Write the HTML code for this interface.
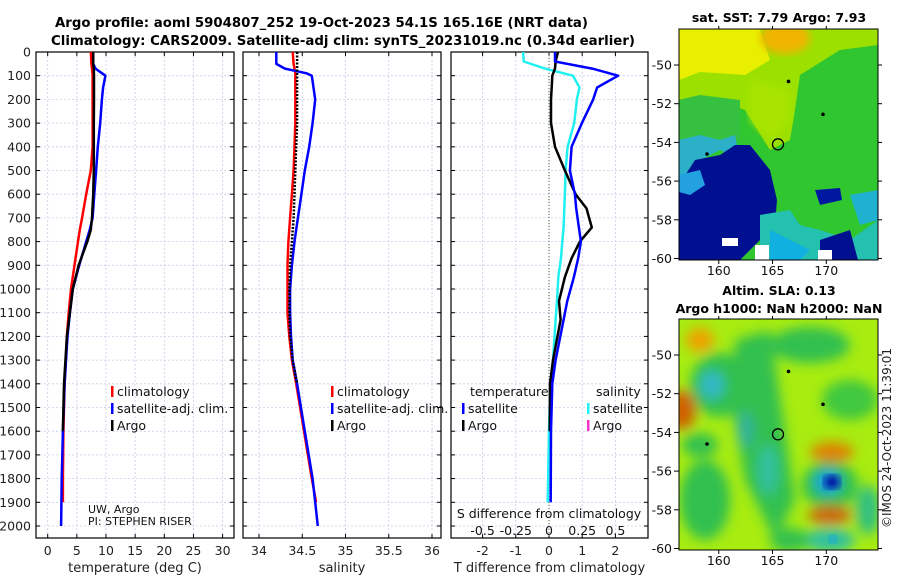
<!DOCTYPE html>
<html><head><meta charset="utf-8"><style>
body{margin:0;background:#fff}
svg{display:block;font-family:"DejaVu Sans","Liberation Sans",sans-serif}
</style></head><body>
<svg id="s" width="900" height="580" viewBox="0 0 900 580" xmlns="http://www.w3.org/2000/svg">
<defs>
<filter id="blur4"><feGaussianBlur stdDeviation="4"/></filter>
<filter id="blur7"><feGaussianBlur stdDeviation="6"/></filter>
<clipPath id="cTop"><rect x="679" y="29" width="199" height="231"/></clipPath>
<clipPath id="cBot"><rect x="679" y="319" width="199" height="231"/></clipPath>
</defs>
<text x="55" y="27" font-size="13" font-weight="bold" textLength="533" lengthAdjust="spacingAndGlyphs">Argo profile: aoml 5904807_252 19-Oct-2023 54.1S 165.16E (NRT data)</text>
<text x="51" y="45" font-size="13" font-weight="bold" textLength="584" lengthAdjust="spacingAndGlyphs">Climatology: CARS2009. Satellite-adj clim: synTS_20231019.nc (0.34d earlier)</text>

<!-- SST map -->
<text x="779" y="22" font-size="12.5" font-weight="bold" text-anchor="middle">sat. SST: 7.79 Argo: 7.93</text>
<g clip-path="url(#cTop)">
<rect x="679" y="29" width="199" height="231" fill="#2fc62f"/>
<polygon points="679,29 878,29 878,45 840,50 800,75 795,110 790,140 770,150 745,110 700,95 679,100" fill="#9ce000"/>
<polygon points="679,29 760,29 770,60 745,75 700,72 679,80" fill="#e8f000"/>
<ellipse cx="785" cy="38" rx="25" ry="16" fill="#f0b400" filter="url(#blur4)"/>
<polygon points="750,80 790,90 790,120 770,140 750,120" fill="#a8e400" filter="url(#blur4)"/>
<polygon points="679,100 700,95 740,100 740,140 715,140 700,150 679,145" fill="#35c040"/>
<polygon points="679,140 700,135 720,140 735,135 740,160 720,150 700,160 690,190 679,190" fill="#2bb0c8"/>
<polygon points="679,185 695,160 720,155 735,145 750,145 770,170 777,200 775,225 760,240 740,260 679,260" fill="#001090"/>
<polygon points="679,175 700,170 705,185 690,195 679,192" fill="#22a0e0"/>
<polygon points="760,215 790,210 800,225 820,230 850,240 878,220 878,260 760,260" fill="#24c0b0"/>
<polygon points="770,230 810,250 800,260 770,260" fill="#10b0e0"/>
<polygon points="815,190 840,188 842,200 820,205" fill="#0018a0"/>
<polygon points="850,195 878,190 878,220 860,225" fill="#20b0d0"/>
<polygon points="820,240 850,230 858,260 820,260" fill="#001090"/>
<rect x="722" y="238" width="16" height="8" fill="#fff"/><rect x="755" y="245" width="14" height="15" fill="#fff"/><rect x="818" y="250" width="14" height="10" fill="#fff"/>
</g>
<rect x="679" y="29" width="199" height="231" fill="none" stroke="#000" stroke-width="1"/>

<!-- SLA map -->
<text x="779" y="295" font-size="12.5" font-weight="bold" text-anchor="middle">Altim. SLA: 0.13</text>
<text x="779" y="313" font-size="12.5" font-weight="bold" text-anchor="middle">Argo h1000: NaN h2000: NaN</text>
<g clip-path="url(#cBot)">
<rect x="679" y="319" width="199" height="231" fill="#a8ec10"/>
<g filter="url(#blur7)">
<ellipse cx="720" cy="385" rx="30" ry="32" fill="#30c050"/>
<ellipse cx="712" cy="385" rx="12" ry="14" fill="#30b8c8"/>
<ellipse cx="700" cy="340" rx="14" ry="12" fill="#f0a000"/>
<ellipse cx="682" cy="410" rx="14" ry="20" fill="#d06000"/>
<polygon points="735,340 770,330 795,500 775,540 745,480 735,420" fill="#30c050"/>
<ellipse cx="768" cy="470" rx="10" ry="25" fill="#30c0a0"/>
<ellipse cx="745" cy="430" rx="8" ry="18" fill="#30b0a0"/>
<ellipse cx="705" cy="500" rx="25" ry="40" fill="#30c050"/>
<ellipse cx="830" cy="485" rx="28" ry="24" fill="#30c050"/>
<ellipse cx="828" cy="482" rx="13" ry="12" fill="#10a0e0"/>
<ellipse cx="832" cy="452" rx="22" ry="10" fill="#e08000"/>
<ellipse cx="830" cy="515" rx="22" ry="9" fill="#d06000"/>
<ellipse cx="830" cy="540" rx="25" ry="12" fill="#30c0a0"/>
<ellipse cx="868" cy="510" rx="12" ry="25" fill="#30c080"/>
<ellipse cx="810" cy="345" rx="40" ry="18" fill="#30c050"/>
<ellipse cx="850" cy="400" rx="28" ry="20" fill="#40c840"/>
<ellipse cx="790" cy="540" rx="20" ry="12" fill="#30c050"/>
<ellipse cx="700" cy="445" rx="18" ry="12" fill="#30c050"/>
</g>
<ellipse cx="832" cy="482" rx="8" ry="7" fill="#0010a0" filter="url(#blur4)"/>
<ellipse cx="833" cy="539" rx="4" ry="4" fill="#10a0f0" filter="url(#blur4)"/>
</g>
<rect x="679" y="319" width="199" height="231" fill="none" stroke="#000" stroke-width="1"/>
<text transform="translate(891,438) rotate(-90)" font-size="12" text-anchor="middle" fill="#222">©IMOS 24-Oct-2023 11:39:01</text>
<g id="g"></g>
</svg>
<script>
// ---- data ----
const tDepth = [0,50,70,100,150,200,300,400,500,600,700,750,800,900,1000,1100,1200,1400,1600,1800,1900,2000];
const tClim  = [7.4,7.5,7.6,7.7,7.7,7.7,7.7,7.7,7.4,6.6,5.9,5.5,5.2,4.6,4.0,3.6,3.3,2.9,2.7,2.6,2.6,null];
const tSat   = [7.8,7.8,8.2,9.9,9.5,9.3,9.0,8.6,8.3,8.0,7.7,7.2,6.6,5.4,4.3,3.8,3.4,2.9,2.6,2.4,2.35,2.3];
const tArgo  = [7.8,7.8,7.9,7.95,7.95,7.95,7.9,7.9,7.9,7.8,7.6,7.4,6.8,5.3,4.3,3.8,3.3,2.8,2.6,null,null,null];
const sDepth = [0,50,70,90,100,200,300,400,500,600,700,800,900,1000,1100,1200,1300,1400,1600,1800,1900,2000];
const sClim  = [34.39,34.40,34.41,34.42,34.42,34.42,34.42,34.41,34.40,34.38,34.36,34.34,34.33,34.33,34.33,34.35,34.38,34.43,34.52,34.61,34.66,null];
const sSat   = [34.20,34.20,34.30,34.55,34.61,34.65,34.62,34.58,34.53,34.49,34.45,34.41,34.38,34.36,34.36,34.37,34.39,34.44,34.53,34.62,34.65,34.68];
const sArgo  = [34.44,34.44,34.44,34.44,34.44,34.44,34.44,34.43,34.42,34.41,34.40,34.38,34.36,34.35,34.35,34.36,34.39,34.44,null,null,null,null];
const dDepth = [0,40,70,100,150,200,300,400,500,600,660,740,800,870,950,1050,1130,1300,1400,1600,1900];
const dTsat  = [0.18,0.18,1.3,2.08,1.45,1.33,0.99,0.68,0.63,0.78,0.82,0.9,0.96,0.88,0.75,0.55,0.44,0.2,0.1,0.06,0.05];
const dTargo = [0.27,0.2,0.18,0.1,0.08,0.06,0.06,0.18,0.48,0.8,1.13,1.29,0.93,0.68,0.48,0.3,0.35,0.12,0.03,0.02,null];
const dSsat  = [-0.195,-0.19,-0.03,0.18,0.23,0.21,0.19,0.14,0.125,0.12,0.115,0.11,0.10,0.09,0.07,0.06,0.05,0.03,0.01,0.0,-0.01];
const depthTicks = [0,100,200,300,400,500,600,700,800,900,1000,1100,1200,1300,1400,1500,1600,1700,1800,1900,2000];
const tTicks = [0,5,10,15,20,25,30];
const sTicks = [34,34.5,35,35.5,36];
const sTickLabels = ['34','34.5','35','35.5','36'];
const dTicks = [-2,-1,0,1,2];
const dsTickLabels = ['-0.5','-0.25','0','0.25','0.5'];
const dsTicks = [-0.5,-0.25,0,0.25,0.5];

const NS='http://www.w3.org/2000/svg';
const G=document.getElementById('g');
function el(tag,attrs,parent){const e=document.createElementNS(NS,tag);for(const k in attrs)e.setAttribute(k,attrs[k]);(parent||G).appendChild(e);return e;}
const Y0=52, Y1=538;
const yD = d => 52 + d*0.237;
const xT = v => 47.7 + v*5.83;
const xS = v => 259 + (v-34)*86.5;
const xD = v => 549 + v*33.2;
const xDS = v => 549 + v*132.8;

const panels=[{x0:36,x1:234,ticks:tTicks,lab:tTicks.map(String),fx:xT,name:'temperature-panel',title:'temperature (deg C)'},
{x0:243,x1:441,ticks:sTicks,lab:sTickLabels,fx:xS,name:'salinity-panel',title:'salinity'},
{x0:451,x1:648,ticks:dTicks,lab:dTicks.map(String),fx:xD,name:'difference-panel',title:'T difference from climatology'}];
panels.forEach((p,i)=>{
  const g=el('g',{});
  
  
  depthTicks.forEach(d=>{
    const l=el('line',{x1:p.x0,x2:p.x1,y1:yD(d),y2:yD(d),stroke:'#c8cce8','stroke-width':0.8,'stroke-dasharray':'2,2'},g);
    
    
    el('line',{x1:p.x0,x2:p.x0+4,y1:yD(d),y2:yD(d),stroke:'#000'},g);
    el('line',{x1:p.x1-4,x2:p.x1,y1:yD(d),y2:yD(d),stroke:'#000'},g);
  });
  p.ticks.forEach((t,k)=>{
    const x=p.fx(t);
    const l=el('line',{x1:x,x2:x,y1:Y0,y2:Y1,stroke:'#c8cce8','stroke-width':0.8,'stroke-dasharray':'2,2'},g);
    
    
    el('line',{x1:x,x2:x,y1:Y1-4,y2:Y1,stroke:'#000'},g);
    el('line',{x1:x,x2:x,y1:Y0,y2:Y0+4,stroke:'#000'},g);
    const tx=el('text',{x:x,y:555,'font-size':12.5,'text-anchor':'middle',fill:'#222'},g);
    
    
    tx.textContent=p.lab[k];
  });
  el('rect',{x:p.x0,y:Y0,width:p.x1-p.x0,height:Y1-Y0,fill:'none',stroke:'#000','stroke-width':1.2},g);
  const tt=el('text',{x:(p.x0+p.x1)/2,y:572,'font-size':13,'text-anchor':'middle',fill:'#222'},g);
  
  
  tt.textContent=p.title;
});
depthTicks.forEach(d=>{
  const t=el('text',{x:31,y:yD(d)+4.5,'font-size':12.5,'text-anchor':'end',fill:'#222'});
  
  
  t.textContent=String(d);
});
el('line',{x1:xD(0),x2:xD(0),y1:Y0,y2:Y1,stroke:'#446633','stroke-width':1,'stroke-dasharray':'1,2'});

function line(depths,vals,fx,color,w,name,dash){
  let d='',pen=false;
  depths.forEach((dp,i)=>{const v=vals[i];if(v===null||v===undefined){pen=false;return;}d+=(pen?'L':'M')+fx(v).toFixed(1)+','+yD(dp).toFixed(1);pen=true;});
  const p=el('path',{d:d,fill:'none',stroke:color,'stroke-width':w,'stroke-linejoin':'round'});
  if(dash)p.setAttribute('stroke-dasharray',dash);
  
  
}
line(tDepth,tClim,xT,'#ff0000',2.5,'temperature-climatology-line');
line(tDepth,tSat,xT,'#0000ff',2.5,'temperature-satellite-line');
line(tDepth,tArgo,xT,'#000',2.5,'temperature-argo-line');
line(sDepth,sClim,xS,'#ff0000',2.5,'salinity-climatology-line');
line(sDepth,sSat,xS,'#0000ff',2.5,'salinity-satellite-line');
line(sDepth,sArgo,xS,'#000',2.5,'salinity-argo-line','2,1.5');
line(dDepth,dSsat,xDS,'#20f0f0',2.5,'salinity-diff-satellite-line');
line(dDepth,dTargo,xD,'#000',2.5,'temperature-diff-argo-line');
line(dDepth,dTsat,xD,'#0000ff',2.5,'temperature-diff-satellite-line');

function legend(x,y,color,label,name){
  const r=el('rect',{x:x,y:y-10,width:2.5,height:11,fill:color});
  
  
  const t=el('text',{x:x+6,y:y,'font-size':12.5,fill:'#111'});
  
  
  t.textContent=label;
}
[[111,'#ff0000','climatology'],[111,'#0000ff','satellite-adj. clim.'],[111,'#000','Argo']].forEach((a,i)=>legend(a[0],396+i*17,a[1],a[2],'temp-legend-entry'));
[[331,'#ff0000','climatology'],[331,'#0000ff','satellite-adj. clim.'],[331,'#000','Argo']].forEach((a,i)=>legend(a[0],396+i*17,a[1],a[2],'sal-legend-entry'));
legend(462,413,'#0000ff','satellite','diff-legend-t-satellite');
legend(462,430,'#000','Argo','diff-legend-t-argo');
legend(587,413,'#20f0f0','satellite','diff-legend-s-satellite');
legend(587,430,'#ff33cc','Argo','diff-legend-s-argo');
function txt(x,y,s,size,name,anchor){const t=el('text',{x:x,y:y,'font-size':size,fill:'#111','text-anchor':anchor||'start'});t.textContent=s;}
txt(470,396,'temperature',12.5,'diff-legend-temperature-header');
txt(596,396,'salinity',12.5,'diff-legend-salinity-header');
txt(88,513,'UW, Argo',11,'institution-label');
txt(88,525,'PI: STEPHEN RISER',11,'pi-label');
txt(549,518,'S difference from climatology',12.5,'s-diff-axis-title','middle');
dsTicks.forEach((v,i)=>{txt(xDS(v),535,dsTickLabels[i],12.5,'s-diff-tick-label','middle');});

const lonTicks=[160,165,170], latTicks=[-50,-52,-54,-56,-58,-60];
const xLon = v => 679 + (v-156.3)*10.75;
const yLatTop = v => 65 + (-50-v)*19.35;
const yLatBot = v => 355 + (-50-v)*19.35;
[[yLatTop,260,29],[yLatBot,550,319]].forEach(([fy,yb,yt])=>{
  lonTicks.forEach(v=>{el('line',{x1:xLon(v),x2:xLon(v),y1:yb,y2:yb+4,stroke:'#000'});el('line',{x1:xLon(v),x2:xLon(v),y1:yt,y2:yt-3,stroke:'#000'});txt(xLon(v),yb+15,String(v),12.5,'map-lon-tick-label','middle');});
  latTicks.forEach(v=>{el('line',{x1:674,x2:679,y1:fy(v),y2:fy(v),stroke:'#000'});el('line',{x1:878,x2:882,y1:fy(v),y2:fy(v),stroke:'#000'});txt(672,fy(v)+4.5,String(v),12.5,'map-lat-tick-label','end');});
  const c=el('circle',{cx:778,cy:fy(-54.1),r:5.5,fill:'none',stroke:'#000','stroke-width':1.3});
  
  
  [[788.5,fy(-50.85)],[823,fy(-52.55)],[707,fy(-54.6)]].forEach(p=>{
    const m=el('circle',{cx:p[0],cy:p[1],r:1.8,fill:'#000'});
    
    
  });
});
</script>
</body></html>
